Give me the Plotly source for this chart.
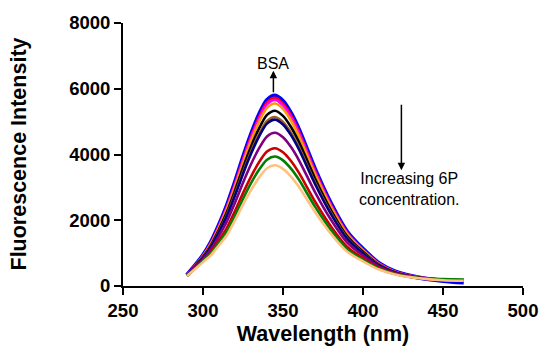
import plotly.graph_objects as go

wavelength = [290, 300, 305, 310, 315, 320, 325, 330, 335, 340, 345, 350, 355, 360,
              370, 380, 390, 400, 410, 420, 435, 450, 463]

bsa = [330, 930, 1330, 1850, 2450, 3150, 3900, 4600, 5200, 5650, 5790, 5620, 5250, 4750,
       3550, 2500, 1650, 1120, 690, 440, 255, 160, 110]
c1 = [330, 923, 1317, 1830, 2421, 3112, 3853, 4545, 5138, 5582, 5721, 5553, 5187, 4693,
      3507, 2470, 1630, 1108, 684, 437, 265, 185, 165]
c2 = [328, 918, 1307, 1813, 2396, 3081, 3814, 4499, 5086, 5526, 5663, 5496, 5135, 4646,
      3472, 2445, 1614, 1098, 679, 435, 262, 190, 175]
c3 = [327, 907, 1286, 1782, 2350, 3021, 3740, 4411, 4987, 5418, 5553, 5390, 5035, 4555,
      3404, 2398, 1582, 1079, 669, 430, 258, 185, 170]
c4 = [325, 886, 1246, 1718, 2256, 2901, 3592, 4237, 4789, 5204, 5333, 5176, 4835, 4375,
      3270, 2303, 1520, 1040, 649, 421, 255, 185, 165]
c5 = [323, 867, 1211, 1664, 2176, 2797, 3463, 4085, 4618, 5017, 5142, 4991, 4662, 4218,
      3152, 2220, 1465, 1007, 632, 413, 252, 185, 170]
c6 = [322, 860, 1196, 1640, 2141, 2753, 3409, 4020, 4545, 4938, 5060, 4912, 4589, 4152,
      3103, 2185, 1442, 993, 625, 410, 250, 180, 160]
c7 = [317, 821, 1123, 1525, 1972, 2536, 3140, 3703, 4186, 4548, 4661, 4524, 4226, 3824,
      2858, 2013, 1328, 923, 589, 393, 245, 185, 170]
c8 = [312, 776, 1036, 1390, 1774, 2281, 2824, 3330, 3765, 4091, 4192, 4069, 3801, 3439,
      2570, 1810, 1195, 842, 547, 373, 240, 190, 180]
c9 = [309, 751, 990, 1317, 1666, 2142, 2652, 3128, 3536, 3842, 3937, 3822, 3570, 3230,
      2414, 1700, 1122, 797, 524, 363, 245, 210, 200]
c10 = [306, 726, 941, 1241, 1553, 1997, 2473, 2916, 3297, 3582, 3671, 3563, 3329, 3012,
       2251, 1585, 1046, 751, 501, 351, 235, 175, 160]

series = [bsa, c1, c2, c3, c4, c5, c6, c7, c8, c9, c10]
names = ["BSA", "6P 1", "6P 2", "6P 3", "6P 4", "6P 5", "6P 6", "6P 7", "6P 8", "6P 9", "6P 10"]
colors = ["#0000FF", "#FF0000", "#FF00FF", "#FF9900", "#000000", "#A0601E",
          "#000080", "#800080", "#CC0000", "#007F00", "#FFC080"]
widths = [4.5, 2.6, 2.6, 2.6, 2.6, 2.6, 2.6, 2.6, 2.6, 2.6, 2.6]

x_ticks = [250, 300, 350, 400, 450, 500]
y_ticks = [0, 2000, 4000, 6000, 8000]

fig = go.Figure()
for ys, nm, col, w in zip(series, names, colors, widths):
    fig.add_trace(go.Scatter(x=wavelength, y=ys, mode="lines", name=nm,
                             line=dict(color=col, width=w, shape="spline", smoothing=0.8)))

fam = "Liberation Sans, Arial, sans-serif"
bold = dict(family=fam, size=18.5, color="black", weight="bold")
title_font = dict(family=fam, size=21.5, color="black", weight="bold")
ann_font = dict(family=fam, size=16, color="black")

fig.update_layout(
    width=550, height=356,
    margin=dict(l=123, r=23, t=18, b=70),
    paper_bgcolor="white", plot_bgcolor="white",
    showlegend=False,
    xaxis=dict(range=[250, 500], tickvals=x_ticks, ticktext=[str(v) for v in x_ticks],
               showline=True, linecolor="black", linewidth=2, ticks="outside",
               ticklen=7, tickwidth=2, tickcolor="black", showgrid=False, zeroline=False,
               tickfont=bold, title=dict(text="Wavelength (nm)", font=title_font, standoff=6)),
    yaxis=dict(range=[0, 8000], tickvals=y_ticks, ticktext=[str(v) for v in y_ticks],
               showline=True, linecolor="black", linewidth=2, ticks="outside",
               ticklen=7, tickwidth=2, tickcolor="black", showgrid=False, zeroline=False,
               tickfont=bold),
)

# Y axis title placed to the far left, as in the reference
fig.add_annotation(x=0, y=0.5, xref="paper", yref="paper", xshift=-105,
                   text="Fluorescence Intensity", textangle=-90, showarrow=False,
                   font=title_font, xanchor="center", yanchor="middle")

# BSA arrow (up)
fig.add_annotation(x=344, y=6550, ax=344, ay=5850, xref="x", yref="y", axref="x", ayref="y",
                   text="", showarrow=True, arrowhead=2, arrowsize=1, arrowwidth=1.5,
                   arrowcolor="black")
fig.add_annotation(x=344, y=6780, xref="x", yref="y", text="BSA", showarrow=False,
                   font=ann_font)
# Increasing concentration arrow (down)
fig.add_annotation(x=424, y=3520, ax=424, ay=5560, xref="x", yref="y", axref="x", ayref="y",
                   text="", showarrow=True, arrowhead=2, arrowsize=1, arrowwidth=1.5,
                   arrowcolor="black")
fig.add_annotation(x=429, y=2950, xref="x", yref="y",
                   text="Increasing 6P<br>concentration.", showarrow=False,
                   font=ann_font, align="center")

fig.write_html("out.html",
               config={"displayModeBar": False, "staticPlot": True},
               post_script="document.body.style.margin='0';document.body.style.overflow='hidden';")
